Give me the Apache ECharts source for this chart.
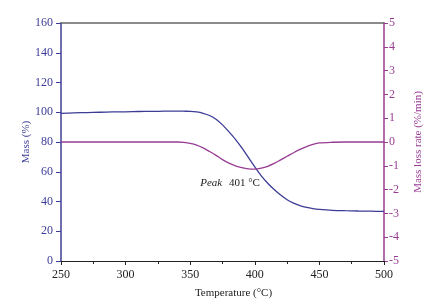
<!DOCTYPE html>
<html>
<head>
<meta charset="utf-8">
<script src="https://cdn.jsdelivr.net/npm/echarts@6/dist/echarts.min.js"></script>
<style>
    html, body { margin: 0; padding: 0; background: #fff; }
    #chart1 { width: 437px; height: 306px; }
</style>
</head>
<body>
<div id="chart1"></div>
<script>
    // temperature (°C)
    var temps = [250, 260, 270, 280, 290, 300, 310, 320, 330, 340, 345, 350, 355, 360, 365, 370, 375, 380, 385, 390,
        395, 400, 405, 410, 415, 420, 425, 430, 435, 440, 445, 450, 460, 470, 480, 490, 500];
    // Mass (%)
    var mass = [99.3, 99.6, 99.8, 100.0, 100.2, 100.3, 100.5, 100.6, 100.7, 100.8, 100.7, 100.6, 100.2, 99.3, 97.8, 95.3, 91.5, 86.8, 81.8, 76.0,
        69.6, 63.2, 57.2, 52.3, 48.0, 44.3, 41.2, 38.9, 37.2, 36.0, 35.2, 34.7, 34.1, 33.8, 33.6, 33.5, 33.3];
    // Mass loss rate (%/min)
    var rate = [0, 0, 0, 0, 0, 0, 0, 0, 0, 0, -0.02, -0.06, -0.13, -0.25, -0.4, -0.56, -0.74, -0.89, -1.0, -1.08,
        -1.13, -1.14, -1.1, -1.02, -0.9, -0.75, -0.6, -0.45, -0.31, -0.19, -0.1, -0.04, -0.01, 0, 0, 0, 0];
    var peakT = 401;
    var peakRate = -1.14;

    var blue = '#3c3c96';
    var purple = '#973c93';
    var font = 'Liberation Serif';

    var massData = temps.map(function (t, i) { return [t, mass[i]]; });
    var rateData = temps.map(function (t, i) { return [t, rate[i]]; });

    var chart1 = echarts.init(document.getElementById('chart1'));
    var option = {
        animation: false,
        grid: {left: 61, right: 53, top: 23, bottom: 45},
        xAxis: [
            {
                type: 'value', min: 250, max: 500, interval: 50,
                name: 'Temperature (°C)', nameLocation: 'middle', nameGap: 27,
                nameTextStyle: {color: '#222', fontFamily: font, fontSize: 11, padding: [0, 0, 0, 22]},
                axisLine: {onZero: false, lineStyle: {color: '#222', width: 1.2}},
                axisTick: {length: 4, lineStyle: {color: '#222'}},
                minorTick: {show: true, splitNumber: 2, length: 3, lineStyle: {color: '#222'}},
                axisLabel: {color: '#222', fontFamily: font, fontSize: 12, margin: 8},
                splitLine: {show: false}
            },
            {
                type: 'value', min: 250, max: 500, position: 'top',
                axisLine: {onZero: false, lineStyle: {color: '#666', width: 1.5}},
                axisTick: {show: false},
                axisLabel: {show: false},
                splitLine: {show: false}
            }
        ],
        yAxis: [
            {
                type: 'value', min: 0, max: 160, interval: 20,
                name: 'Mass (%)', nameLocation: 'middle', nameGap: 29, nameMoveOverlap: false,
                nameTextStyle: {color: blue, fontFamily: font, fontSize: 11},
                axisLine: {show: true, onZero: false, lineStyle: {color: blue, width: 1.5}},
                axisTick: {show: true, length: 5, lineStyle: {color: blue}},
                axisLabel: {color: blue, fontFamily: font, fontSize: 12, margin: 8},
                splitLine: {show: false}
            },
            {
                type: 'value', min: -5, max: 5, interval: 1, position: 'right',
                name: 'Mass loss rate (%/min)', nameLocation: 'middle', nameGap: 29, nameRotate: 90,
                nameTextStyle: {color: purple, fontFamily: font, fontSize: 11},
                axisLine: {show: true, onZero: false, lineStyle: {color: purple, width: 1.5}},
                axisTick: {show: true, length: 4, lineStyle: {color: purple}},
                axisLabel: {color: purple, fontFamily: font, fontSize: 12, margin: 5},
                splitLine: {show: false}
            }
        ],
        series: [
            {
                name: 'Mass',
                type: 'line',
                xAxisIndex: 0,
                yAxisIndex: 0,
                data: massData,
                smooth: 0.3,
                showSymbol: false,
                lineStyle: {color: blue, width: 1.3},
                z: 3
            },
            {
                name: 'Rate',
                type: 'line',
                xAxisIndex: 0,
                yAxisIndex: 1,
                data: rateData,
                smooth: 0.3,
                showSymbol: false,
                lineStyle: {color: purple, width: 1.3},
                markPoint: {
                    symbol: 'circle',
                    symbolSize: 0,
                    silent: true,
                    data: [{coord: [peakT, peakRate]}],
                    label: {
                        show: true,
                        position: 'inside',
                        offset: [-26, 14],
                        formatter: '{i|Peak}  {n|' + peakT + ' °C}',
                        rich: {
                            i: {fontStyle: 'italic', fontFamily: font, fontSize: 11, color: '#222'},
                            n: {fontFamily: font, fontSize: 11, color: '#222'}
                        }
                    }
                }
            }
        ]
    };
    chart1.setOption(option);
</script>
</body>
</html>
